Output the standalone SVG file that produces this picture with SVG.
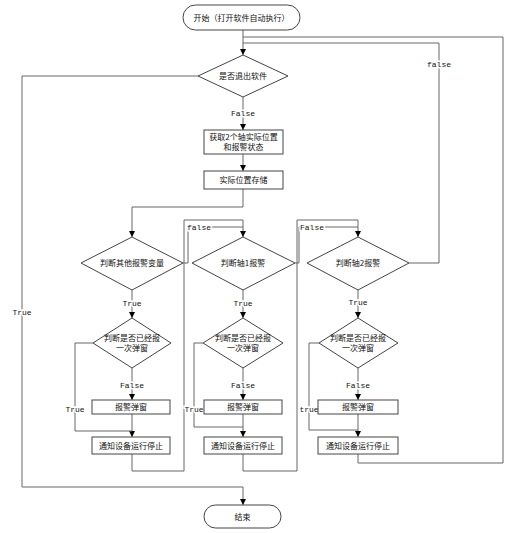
<svg xmlns="http://www.w3.org/2000/svg" width="521" height="533" viewBox="0 0 521 533">
<style>
.s{fill:#fff;stroke:#444;stroke-width:1}
.c{fill:none;stroke:#666;stroke-width:1}
.t{font-family:"Noto Sans CJK SC","Noto Sans",sans-serif;font-size:8px;fill:#111;text-anchor:middle}
.l{font-family:"Liberation Mono","DejaVu Sans Mono",monospace;font-size:8px;fill:#111;text-anchor:middle;paint-order:stroke;stroke:#fff;stroke-width:3px}
</style>
<defs>
<marker id="a" markerUnits="userSpaceOnUse" markerWidth="6" markerHeight="8" refX="6" refY="3" orient="auto">
<path d="M0,0 L6,3 L0,6 Z" fill="#000"/>
</marker>
</defs>
<g id="connectors">
<path class="c" d="M243 30 V55" marker-end="url(#a)"/>
<path class="c" d="M358 454 V463 H503 V37 H243"/>
<path class="c" d="M409 263 H439 V43 H243"/>
<path class="c" d="M198 76 H22 V487 H243 V505" marker-end="url(#a)"/>
<path class="c" d="M243 97 V130" marker-end="url(#a)"/>
<path class="c" d="M243 154 V171" marker-end="url(#a)"/>
<path class="c" d="M243 189 V207 H132 V237" marker-end="url(#a)"/>
<path class="c" d="M183 263 H188 V227 H243"/>
<path class="c" d="M132 454 V471 H184 V220 H243 V237" marker-end="url(#a)"/>
<path class="c" d="M295 263 H299 V227 H358"/>
<path class="c" d="M243 454 V471 H297 V220 H358 V237" marker-end="url(#a)"/>
<path class="c" d="M132 290 V318" marker-end="url(#a)"/>
<path class="c" d="M243 290 V318" marker-end="url(#a)"/>
<path class="c" d="M358 290 V318" marker-end="url(#a)"/>
<path class="c" d="M132 368 V400" marker-end="url(#a)"/>
<path class="c" d="M243 368 V400" marker-end="url(#a)"/>
<path class="c" d="M358 368 V400" marker-end="url(#a)"/>
<path class="c" d="M132 414 V437" marker-end="url(#a)"/>
<path class="c" d="M243 414 V437" marker-end="url(#a)"/>
<path class="c" d="M358 414 V437" marker-end="url(#a)"/>
<path class="c" d="M93 343 H75 V431 H132"/>
<path class="c" d="M203 343 H194 V427 H243"/>
<path class="c" d="M319 343 H309 V430 H358"/>
<text class="l" x="439" y="67">false</text>
<text class="l" x="22" y="315">True</text>
<text class="l" x="243" y="116">False</text>
<text class="l" x="199" y="230">false</text>
<text class="l" x="312" y="230">False</text>
<text class="l" x="132" y="306">True</text>
<text class="l" x="243" y="306">True</text>
<text class="l" x="358" y="305">True</text>
<text class="l" x="132" y="388">False</text>
<text class="l" x="243" y="388">False</text>
<text class="l" x="358" y="388">False</text>
<text class="l" x="75" y="412">True</text>
<text class="l" x="194" y="412">True</text>
<text class="l" x="309" y="412">true</text>
</g>
<g id="start"><rect class="s" x="183" y="5" width="117" height="25" rx="12.5"/><text class="t" x="241.5" y="20.5">开始（打开软件自动执行）</text></g>
<g id="d1"><path class="s" d="M243 55 L288 76 L243 97 L198 76 Z"/><text class="t" x="243" y="79">是否退出软件</text></g>
<g id="b1"><rect class="s" x="204" y="130" width="79" height="24"/><text class="t" x="243.5" y="140">获取2个轴实际位置</text><text class="t" x="243.5" y="150">和报警状态</text></g>
<g id="b2"><rect class="s" x="204" y="171" width="79" height="18"/><text class="t" x="243.5" y="183">实际位置存储</text></g>
<g id="d2"><path class="s" d="M132 237 L183 263 L132 290 L81 263 Z"/><text class="t" x="132" y="266">判断其他报警变量</text></g>
<g id="d3"><path class="s" d="M243 237 L295 263 L243 290 L192 263 Z"/><text class="t" x="243" y="266">判断轴1报警</text></g>
<g id="d4"><path class="s" d="M358 237 L409 263 L358 290 L307 263 Z"/><text class="t" x="358" y="266">判断轴2报警</text></g>
<g id="d5"><path class="s" d="M132 318 L171 343 L132 368 L93 343 Z"/><text class="t" x="132" y="341">判断是否已经报</text><text class="t" x="132" y="351">一次弹窗</text></g>
<g id="d6"><path class="s" d="M243 318 L283 343 L243 368 L203 343 Z"/><text class="t" x="243" y="341">判断是否已经报</text><text class="t" x="243" y="351">一次弹窗</text></g>
<g id="d7"><path class="s" d="M358 318 L398 343 L358 368 L319 343 Z"/><text class="t" x="358" y="341">判断是否已经报</text><text class="t" x="358" y="351">一次弹窗</text></g>
<g id="p1"><rect class="s" x="92" y="400" width="78" height="14"/><text class="t" x="131" y="410">报警弹窗</text></g>
<g id="p2"><rect class="s" x="204" y="400" width="78" height="14"/><text class="t" x="243" y="410">报警弹窗</text></g>
<g id="p3"><rect class="s" x="318" y="400" width="80" height="14"/><text class="t" x="358" y="410">报警弹窗</text></g>
<g id="n1"><rect class="s" x="92" y="437" width="78" height="17"/><text class="t" x="131" y="448.5">通知设备运行停止</text></g>
<g id="n2"><rect class="s" x="204" y="437" width="78" height="17"/><text class="t" x="243" y="448.5">通知设备运行停止</text></g>
<g id="n3"><rect class="s" x="318" y="437" width="80" height="17"/><text class="t" x="358" y="448.5">通知设备运行停止</text></g>
<g id="end"><rect class="s" x="204" y="505" width="77" height="23" rx="11.5"/><text class="t" x="242.5" y="519.5">结束</text></g>
</svg>
